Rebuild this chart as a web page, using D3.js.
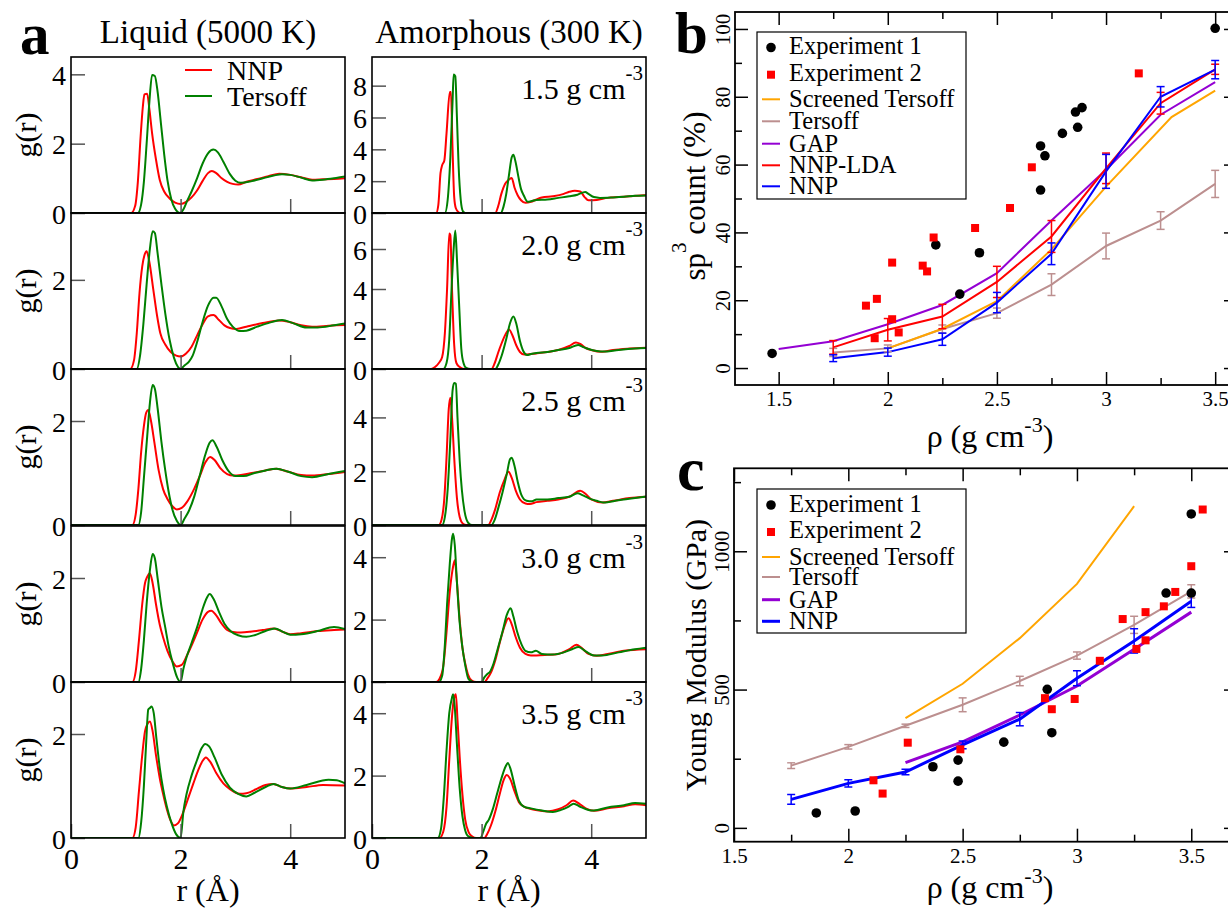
<!DOCTYPE html>
<html><head><meta charset="utf-8">
<script src="https://cdn.jsdelivr.net/npm/d3@7"></script>
<style>
body{margin:0;background:#fff}
svg{display:block}
text{font-family:"Liberation Serif","Times New Roman",serif;fill:#000}
</style>
</head><body>
<svg id="chart" width="1228" height="912"></svg>
<script>
// ---------------- DATA ----------------
const densityLabels = ["1.5","2.0","2.5","3.0","3.5"];
const liquidYMax = [4.5,3.5,3,3,3];
const amorphYMax = [9.8,7.8,5.8,5,5];
const liquidYTicks = [[0,2,4],[0,2],[0,2],[0,2],[0,2]];
const amorphYTicks = [[0,2,4,6,8],[0,2,4,6],[0,2,4],[0,2,4],[0,2,4]];
const rTicks = [0,2,4];

// Liquid g(r) [r, g]
const liq1_nnp = [[0,0],[1.1,0],[1.17,0.2],[1.22,0.9],[1.27,2.2],[1.31,3.05],[1.34,3.42],[1.39,3.44],[1.43,3.0],[1.48,2.3],[1.55,1.55],[1.62,0.95],[1.7,0.62],[1.8,0.42],[1.9,0.3],[2.0,0.26],[2.1,0.32],[2.2,0.45],[2.3,0.65],[2.4,0.92],[2.5,1.15],[2.57,1.21],[2.65,1.15],[2.75,1.0],[2.85,0.9],[2.95,0.84],[3.05,0.82],[3.2,0.9],[3.4,0.98],[3.6,1.06],[3.8,1.13],[4.0,1.1],[4.2,1.03],[4.4,0.96],[4.6,0.97],[4.8,0.98],[5.0,1.0]];
const liq1_ters = [[0,0],[1.22,0],[1.28,0.25],[1.33,0.9],[1.38,2.0],[1.43,3.2],[1.48,3.98],[1.53,3.95],[1.58,3.5],[1.64,2.6],[1.7,1.7],[1.76,0.95],[1.83,0.4],[1.9,0.12],[1.99,0],[2.05,0.1],[2.12,0.35],[2.2,0.62],[2.3,1.0],[2.4,1.42],[2.5,1.72],[2.6,1.83],[2.68,1.75],[2.78,1.48],[2.9,1.12],[3.0,0.93],[3.1,0.87],[3.3,0.92],[3.5,1.0],[3.7,1.08],[3.85,1.12],[4.0,1.1],[4.2,1.02],[4.4,0.94],[4.6,0.96],[4.8,1.0],[5.0,1.05]];
const liq2_nnp = [[0,0],[1.08,0],[1.15,0.2],[1.2,0.8],[1.25,1.7],[1.3,2.3],[1.34,2.55],[1.38,2.64],[1.43,2.4],[1.5,1.8],[1.57,1.2],[1.63,0.8],[1.72,0.55],[1.82,0.38],[1.92,0.3],[2.0,0.28],[2.1,0.35],[2.2,0.5],[2.3,0.75],[2.4,1.0],[2.5,1.18],[2.6,1.21],[2.7,1.1],[2.8,0.98],[2.9,0.92],[3.02,0.9],[3.2,0.95],[3.5,1.03],[3.8,1.09],[4.0,1.05],[4.2,0.98],[4.4,0.95],[4.7,0.97],[5.0,0.99]];
const liq2_ters = [[0,0],[1.2,0],[1.26,0.3],[1.32,1.0],[1.38,1.9],[1.44,2.7],[1.49,3.09],[1.53,3.05],[1.58,2.6],[1.65,1.9],[1.72,1.25],[1.8,0.65],[1.88,0.25],[1.95,0.05],[2.0,0],[2.07,0.08],[2.15,0.16],[2.22,0.3],[2.3,0.6],[2.4,1.05],[2.5,1.42],[2.6,1.6],[2.65,1.6],[2.75,1.4],[2.85,1.12],[2.95,0.95],[3.08,0.85],[3.2,0.86],[3.4,0.95],[3.6,1.03],[3.85,1.1],[4.05,1.03],[4.3,0.93],[4.5,0.93],[4.8,0.98],[5.0,1.02]];
const liq3_nnp = [[0,0],[1.12,0],[1.18,0.2],[1.23,0.7],[1.28,1.4],[1.33,1.9],[1.37,2.15],[1.41,2.21],[1.46,2.0],[1.52,1.6],[1.6,1.05],[1.68,0.69],[1.76,0.5],[1.85,0.36],[1.93,0.3],[2.02,0.33],[2.12,0.45],[2.25,0.7],[2.35,0.94],[2.45,1.2],[2.54,1.31],[2.62,1.25],[2.72,1.1],[2.85,0.98],[2.96,0.95],[3.1,0.96],[3.3,1.0],[3.55,1.05],[3.75,1.08],[3.95,1.03],[4.2,0.96],[4.4,0.95],[4.7,0.98],[5.0,1.02]];
const liq3_ters = [[0,0],[1.23,0],[1.28,0.25],[1.33,0.9],[1.39,1.7],[1.44,2.35],[1.49,2.69],[1.53,2.62],[1.58,2.25],[1.65,1.6],[1.72,1.05],[1.78,0.65],[1.85,0.3],[1.93,0.08],[2.0,0],[2.07,0.12],[2.15,0.27],[2.25,0.55],[2.35,0.95],[2.45,1.35],[2.53,1.58],[2.58,1.63],[2.66,1.5],[2.76,1.25],[2.88,1.03],[3.0,0.94],[3.15,0.94],[3.35,1.0],[3.55,1.05],[3.75,1.08],[3.95,1.03],[4.2,0.94],[4.4,0.92],[4.7,0.98],[5.0,1.04]];
const liq4_nnp = [[0,0],[1.12,0],[1.18,0.2],[1.24,0.8],[1.3,1.5],[1.35,1.9],[1.39,2.02],[1.44,2.09],[1.49,1.9],[1.55,1.5],[1.62,1.1],[1.68,0.86],[1.76,0.6],[1.85,0.4],[1.93,0.3],[2.02,0.33],[2.12,0.52],[2.22,0.75],[2.3,0.95],[2.4,1.2],[2.5,1.35],[2.56,1.37],[2.65,1.28],[2.75,1.12],[2.85,1.0],[2.96,0.96],[3.1,0.95],[3.3,0.97],[3.5,1.0],[3.7,1.03],[3.85,0.97],[4.0,0.92],[4.2,0.94],[4.5,0.98],[4.8,1.0],[5.0,1.01]];
const liq4_ters = [[0,0],[1.23,0],[1.28,0.25],[1.33,0.8],[1.38,1.5],[1.44,2.15],[1.49,2.46],[1.53,2.38],[1.58,2.0],[1.65,1.45],[1.72,1.05],[1.78,0.7],[1.86,0.35],[1.94,0.08],[2.0,0],[2.05,0.25],[2.11,0.48],[2.2,0.75],[2.3,1.05],[2.4,1.4],[2.48,1.62],[2.53,1.69],[2.6,1.6],[2.7,1.35],[2.8,1.12],[2.92,0.97],[3.05,0.9],[3.2,0.87],[3.35,0.9],[3.55,0.98],[3.72,1.03],[3.88,0.96],[4.0,0.91],[4.2,0.92],[4.5,0.98],[4.8,1.06],[5.0,1.02]];
const liq5_nnp = [[0,0],[1.12,0],[1.18,0.2],[1.24,0.9],[1.3,1.6],[1.35,2.05],[1.4,2.2],[1.44,2.24],[1.49,2.05],[1.55,1.6],[1.62,1.15],[1.68,0.85],[1.75,0.55],[1.82,0.33],[1.88,0.24],[1.95,0.28],[2.05,0.5],[2.15,0.8],[2.23,1.04],[2.32,1.3],[2.4,1.48],[2.46,1.55],[2.55,1.45],[2.65,1.25],[2.78,1.05],[2.9,0.94],[3.08,0.85],[3.2,0.86],[3.4,0.95],[3.55,1.02],[3.69,1.04],[3.85,0.98],[4.0,0.95],[4.3,0.98],[4.6,1.02],[5.0,1.01]];
const liq5_ters = [[0,0],[1.23,0],[1.28,0.3],[1.33,1.0],[1.37,1.8],[1.41,2.47],[1.44,2.5],[1.47,2.53],[1.51,2.4],[1.56,1.9],[1.62,1.35],[1.68,0.95],[1.75,0.6],[1.83,0.3],[1.92,0.07],[2.0,0],[2.05,0.5],[2.11,0.85],[2.2,1.2],[2.3,1.5],[2.38,1.72],[2.45,1.81],[2.52,1.76],[2.62,1.55],[2.75,1.22],[2.9,0.97],[3.05,0.85],[3.2,0.8],[3.35,0.87],[3.55,0.98],[3.7,1.04],[3.85,0.98],[4.0,0.95],[4.3,1.02],[4.7,1.12],[4.85,1.11],[5.0,1.05]];

// Amorphous g(r) [r, g]
const am1_nnp = [[0,0],[1.17,0],[1.21,0.5],[1.25,2.5],[1.28,3.0],[1.32,3.3],[1.36,5.0],[1.42,7.6],[1.44,7.6],[1.47,4.0],[1.5,1.0],[1.53,0.3],[1.58,0.05],[1.62,0],[2.25,0],[2.3,0.4],[2.36,1.2],[2.43,1.84],[2.5,2.1],[2.55,2.2],[2.6,1.6],[2.66,1.1],[2.72,0.8],[2.8,0.64],[2.9,0.7],[3.0,0.85],[3.1,0.97],[3.3,1.05],[3.5,1.2],[3.6,1.33],[3.7,1.4],[3.8,1.35],[3.88,1.0],[3.95,0.8],[4.1,0.82],[4.3,0.95],[4.5,1.0],[4.7,1.05],[4.9,1.1],[5.0,1.12]];
const am1_ters = [[0,0],[1.33,0],[1.38,0.8],[1.43,3.5],[1.47,7.0],[1.49,8.7],[1.52,8.6],[1.55,6.0],[1.58,3.0],[1.62,0.8],[1.66,0.1],[1.7,0],[2.35,0],[2.4,0.4],[2.45,1.2],[2.5,2.4],[2.55,3.5],[2.58,3.66],[2.62,3.2],[2.67,2.3],[2.72,1.5],[2.77,1.1],[2.84,0.7],[2.92,0.75],[3.0,0.82],[3.2,0.85],[3.4,0.95],[3.6,1.05],[3.75,1.15],[3.89,1.32],[3.95,1.2],[4.05,1.0],[4.16,0.95],[4.4,0.98],[4.6,1.02],[4.8,1.08],[5.0,1.1]];
const am2_nnp = [[0,0],[1.08,0],[1.15,0.1],[1.22,0.3],[1.28,0.6],[1.33,1.8],[1.37,4.0],[1.41,6.78],[1.43,6.7],[1.46,4.0],[1.5,1.2],[1.54,0.3],[1.6,0.1],[1.68,0],[2.18,0],[2.24,0.3],[2.3,0.8],[2.36,1.25],[2.44,1.75],[2.5,1.98],[2.56,1.7],[2.63,1.2],[2.7,0.85],[2.78,0.72],[2.9,0.75],[3.0,0.78],[3.2,0.85],[3.4,0.95],[3.6,1.15],[3.72,1.32],[3.8,1.25],[3.9,1.05],[4.0,0.95],[4.2,0.86],[4.4,0.95],[4.7,1.02],[5.0,1.06]];
const am2_ters = [[0,0],[1.3,0],[1.36,0.3],[1.41,1.5],[1.45,3.9],[1.49,6.0],[1.52,6.92],[1.55,5.5],[1.59,3.2],[1.63,1.0],[1.67,0.3],[1.72,0.05],[1.8,0],[2.25,0],[2.3,0.2],[2.37,0.7],[2.45,1.5],[2.52,2.3],[2.58,2.62],[2.63,2.3],[2.7,1.4],[2.76,0.9],[2.83,0.7],[2.9,0.75],[3.0,0.8],[3.2,0.85],[3.4,0.95],[3.6,1.05],[3.76,1.2],[3.85,1.1],[3.95,1.0],[4.1,0.9],[4.22,0.87],[4.5,0.95],[4.8,1.02],[5.0,1.05]];
const am3_nnp = [[0,0],[1.22,0],[1.27,0.2],[1.32,1.0],[1.36,2.5],[1.4,4.3],[1.43,4.73],[1.46,4.0],[1.5,2.5],[1.55,1.0],[1.6,0.3],[1.66,0.05],[1.72,0],[2.12,0],[2.18,0.2],[2.25,0.6],[2.33,1.2],[2.42,1.7],[2.49,1.98],[2.55,1.75],[2.62,1.3],[2.7,0.95],[2.8,0.8],[2.88,0.78],[3.0,0.85],[3.2,0.9],[3.4,0.95],[3.6,1.05],[3.8,1.27],[3.9,1.15],[4.0,0.95],[4.2,0.84],[4.4,0.9],[4.7,1.0],[5.0,1.05]];
const am3_ters = [[0,0],[1.28,0],[1.33,0.3],[1.38,1.3],[1.43,3.2],[1.47,5.0],[1.5,5.28],[1.53,5.25],[1.56,4.0],[1.6,2.4],[1.64,1.3],[1.69,0.5],[1.75,0.1],[1.82,0],[2.18,0],[2.24,0.2],[2.3,0.6],[2.38,1.2],[2.46,1.9],[2.52,2.45],[2.55,2.5],[2.6,2.2],[2.66,1.6],[2.73,1.1],[2.82,0.9],[2.92,0.88],[3.0,0.95],[3.2,0.95],[3.4,1.0],[3.6,1.05],[3.75,1.18],[3.85,1.1],[3.95,1.0],[4.1,0.9],[4.22,0.84],[4.5,0.92],[4.8,1.0],[5.0,1.06]];
const am4_nnp = [[0,0],[1.17,0],[1.23,0.1],[1.3,0.5],[1.36,1.6],[1.42,2.9],[1.47,3.6],[1.51,3.9],[1.55,3.2],[1.6,2.0],[1.65,1.1],[1.7,0.6],[1.75,0.25],[1.82,0.05],[1.9,0],[2.05,0],[2.1,0.1],[2.17,0.3],[2.25,0.7],[2.33,1.25],[2.42,1.8],[2.49,2.04],[2.55,1.85],[2.62,1.45],[2.7,1.1],[2.8,0.9],[2.9,0.85],[3.0,0.85],[3.2,0.87],[3.4,0.9],[3.6,1.05],[3.73,1.19],[3.82,1.1],[3.95,0.9],[4.1,0.84],[4.3,0.9],[4.6,1.0],[5.0,1.05]];
const am4_ters = [[0,0],[1.22,0],[1.28,0.2],[1.33,1.2],[1.37,2.5],[1.42,3.8],[1.46,4.6],[1.48,4.75],[1.51,4.4],[1.55,3.2],[1.6,1.9],[1.65,1.1],[1.7,0.55],[1.76,0.1],[1.85,0],[2.0,0],[2.05,0.15],[2.1,0.25],[2.15,0.32],[2.22,0.6],[2.3,1.1],[2.38,1.6],[2.46,2.15],[2.53,2.36],[2.58,2.1],[2.65,1.6],[2.73,1.2],[2.8,1.0],[2.9,0.95],[2.99,1.0],[3.1,0.9],[3.3,0.88],[3.5,0.95],[3.65,1.05],[3.77,1.12],[3.9,0.98],[4.05,0.85],[4.2,0.85],[4.5,0.95],[4.8,1.05],[5.0,1.1]];
const am5_nnp = [[0,0],[1.23,0],[1.3,0.2],[1.36,1.0],[1.41,2.5],[1.46,3.9],[1.5,4.5],[1.53,4.61],[1.56,3.8],[1.6,2.6],[1.65,1.4],[1.7,0.6],[1.76,0.2],[1.83,0.05],[1.9,0],[2.05,0],[2.1,0.12],[2.17,0.4],[2.25,0.85],[2.33,1.4],[2.4,1.85],[2.46,2.02],[2.52,1.9],[2.6,1.5],[2.68,1.15],[2.78,1.0],[2.9,0.93],[3.05,0.88],[3.2,0.85],[3.4,0.92],[3.55,1.05],[3.67,1.2],[3.78,1.1],[3.9,0.95],[4.05,0.87],[4.3,0.95],[4.6,1.02],[4.8,1.08],[5.0,1.05]];
const am5_ters = [[0,0],[1.2,0],[1.26,0.3],[1.31,1.3],[1.36,2.8],[1.41,4.0],[1.46,4.5],[1.48,4.61],[1.51,4.2],[1.55,3.0],[1.6,1.6],[1.65,0.7],[1.7,0.25],[1.76,0.05],[1.85,0],[1.98,0],[2.03,0.2],[2.08,0.45],[2.13,0.58],[2.2,0.9],[2.28,1.4],[2.36,1.9],[2.44,2.3],[2.48,2.4],[2.53,2.2],[2.6,1.7],[2.68,1.2],[2.78,1.0],[2.9,0.95],[3.1,0.88],[3.3,0.83],[3.45,0.9],[3.58,1.0],[3.68,1.1],[3.8,1.0],[3.95,0.9],[4.05,0.88],[4.3,0.98],[4.6,1.05],[4.8,1.12],[5.0,1.1]];

// Panel b: sp3 count (%)
const exp1_sp3 = [[1.47,4.3],[2.22,36.3],[2.33,21.8],[2.42,34.0],[2.70,52.5],[2.70,65.5],[2.72,62.6],[2.80,69.2],[2.86,75.5],[2.87,71.0],[2.89,76.8],[3.5,100.2]];
const exp2_sp3 = [[1.90,18.4],[1.94,8.8],[1.95,20.4],[2.02,31.1],[2.02,14.4],[2.05,10.5],[2.16,30.2],[2.18,28.5],[2.21,38.5],[2.40,41.3],[2.56,47.2],[2.66,59.2],[3.15,86.9]];
const simDens = [1.75,2.0,2.25,2.5,2.75,3.0,3.25,3.5];
const gapDensB = [1.5,1.75,2.0,2.25,2.5,2.75,3.0,3.25,3.5];
const gapSp3 = [5.6,7.9,12.9,18.6,28.0,43.5,58.5,74.7,84.3];
const nnpLdaSp3 = [6.1,11.3,15.2,25.4,38.8,58.9,78.1,88.1];
const nnpLdaSp3Err = [2.0,3.3,3.6,4.6,4.7,4.5,3.2,1.5];
const nnpSp3 = [2.9,4.7,8.5,19.3,33.7,58.0,80.0,88.0];
const nnpSp3Err = [1.0,1.2,1.8,3.0,3.2,5.0,3.0,2.7];
const tersSp3 = [4.6,5.8,11.5,16.2,24.6,36.0,43.5,54.3];
const tersSp3Err = [1.2,1.0,1.2,1.5,3.2,3.8,2.6,4.0];
const scrDensB = [2.0,2.25,2.5,2.75,3.0,3.3,3.5];
const scrSp3 = [5.8,11.6,19.7,35.0,53.5,74.0,81.8];

// Panel c: Young modulus (GPa)
const exp1_E = [[1.86,54],[2.03,61],[2.37,221],[2.48,245],[2.48,169],[2.68,310],[2.87,501],[2.89,344],[3.39,849],[3.5,849],[3.5,1135]];
const exp2_E = [[2.11,172],[2.15,124],[2.26,308],[2.49,284],[2.86,469],[2.89,429],[2.99,466],[3.10,604],[3.20,755],[3.26,647],[3.30,678],[3.30,780],[3.38,801],[3.43,853],[3.5,946],[3.55,1151]];
const tersE = [225,293,369,445,531,623,734,855];
const tersEErr = [10,8,6,25,17,13,31,24];
const nnpE = [103,161,202,300,393,541,676,819];
const nnpEErr = [18,13,10,14,24,27,44,22];
const gapDensC = [2.25,2.5,2.75,3.0,3.25,3.5];
const gapE = [236,311,408,513,646,780];
const scrDensC = [2.25,2.5,2.75,3.0,3.25];
const scrE = [397,521,686,882,1163];

const legendB = ["Experiment 1","Experiment 2","Screened Tersoff","Tersoff","GAP","NNP-LDA","NNP"];
const legendC = ["Experiment 1","Experiment 2","Screened Tersoff","Tersoff","GAP","NNP"];

// ---------------- DRAW ----------------
const svg = d3.select("#chart");
const FONT = "Liberation Serif, Times New Roman, serif";
const C = {nnp:"#ff0000", ters:"#008000", scr:"#ffa500", tersoff:"#bc8f8f", gap:"#9400d3", lda:"#ff0000", blue:"#0000ff"};

function styleAxis(sel, fs, tickColor){
  sel.select(".domain").remove();
  sel.attr("font-family", FONT).attr("font-size", fs);
  sel.selectAll(".tick line").attr("stroke", tickColor||"#000").attr("stroke-width",1.5);
  sel.selectAll(".tick text").attr("fill","#000");
}

// ---- Panel a ----
const rowTops = [57,213,369,526,682];
const rowH = 156;
const colsA = [
  {x0:71, w:274, title:"Liquid (5000 K)", nnp:[liq1_nnp,liq2_nnp,liq3_nnp,liq4_nnp,liq5_nnp], ters:[liq1_ters,liq2_ters,liq3_ters,liq4_ters,liq5_ters], ymax:liquidYMax, ticks:liquidYTicks},
  {x0:372, w:274, title:"Amorphous (300 K)", nnp:[am1_nnp,am2_nnp,am3_nnp,am4_nnp,am5_nnp], ters:[am1_ters,am2_ters,am3_ters,am4_ters,am5_ters], ymax:amorphYMax, ticks:amorphYTicks}
];
const defs = svg.append("defs");

colsA.forEach((col, ci) => {
  const x = d3.scaleLinear([0,5],[col.x0, col.x0+col.w]);
  svg.append("text").attr("x", col.x0+col.w/2).attr("y",43).attr("text-anchor","middle")
     .attr("font-size",33).text(col.title);
  rowTops.forEach((top, i) => {
    const y = d3.scaleLinear([0, col.ymax[i]],[top+rowH, top]);
    const id = `clipA${ci}_${i}`;
    defs.append("clipPath").attr("id",id).append("rect")
      .attr("x",col.x0).attr("y",top).attr("width",col.w).attr("height",rowH);
    const g = svg.append("g");
    const line = d3.line().x(d=>x(d[0])).y(d=>y(d[1])).curve(d3.curveMonotoneX);
    const pg = g.append("g").attr("clip-path",`url(#${id})`);
    pg.append("path").datum(col.nnp[i]).attr("d",line).attr("fill","none")
      .attr("stroke",C.nnp).attr("stroke-width",2);
    pg.append("path").datum(col.ters[i]).attr("d",line).attr("fill","none")
      .attr("stroke",C.ters).attr("stroke-width",2);
    g.append("g").attr("transform",`translate(${col.x0},0)`)
      .call(d3.axisLeft(y).tickValues(col.ticks[i]).tickSize(-14).tickPadding(5).tickFormat(d3.format("d")))
      .call(a=>styleAxis(a,28,"#555"))
      .call(a=>a.selectAll(".tick text").attr("dy","0.36em"));
    const last = i === rowTops.length-1;
    g.append("g").attr("transform",`translate(0,${top+rowH})`)
      .call(d3.axisBottom(x).tickValues(last ? rTicks : [2,4]).tickSize(-14).tickFormat(last ? d3.format("d") : ""))
      .call(a=>styleAxis(a,30,"#555"))
      .call(a=>a.selectAll(".tick text").attr("y",31).attr("dy",null));
    g.append("rect").attr("x",col.x0).attr("y",top).attr("width",col.w).attr("height",rowH)
      .attr("fill","none").attr("stroke","#000").attr("stroke-width",1.6);
    if (ci === 0) {
      svg.append("text").attr("transform",`translate(36,${top+rowH/2}) rotate(-90)`)
        .attr("text-anchor","middle").attr("font-size",30).text("g(r)");
    } else {
      const t = svg.append("text").attr("x",643).attr("y",top+42).attr("text-anchor","end").attr("font-size",30);
      t.append("tspan").text(`${densityLabels[i]} g cm`);
      t.append("tspan").attr("dy",-19).attr("font-size",21).text("-3");
    }
  });
  svg.append("text").attr("x",col.x0+col.w/2).attr("y",901).attr("text-anchor","middle")
    .attr("font-size",32).text("r (Å)");
});
[["NNP",C.nnp,80],["Tersoff",C.ters,106]].forEach(([lab,col,by]) => {
  svg.append("line").attr("x1",185).attr("x2",212).attr("y1",by-10).attr("y2",by-10)
    .attr("stroke",col).attr("stroke-width",2);
  svg.append("text").attr("x",227).attr("y",by).attr("font-size",28).text(lab);
});
svg.append("text").attr("x",20).attr("y",54).attr("font-size",59).attr("font-weight","bold").text("a");

// ---- helpers for b and c ----
function frameAxes(xs, ys, L, R, T, B, xMaj, xMin, yMaj, yMin, xfmt) {
  const g = svg.append("g");
  g.append("g").attr("transform",`translate(0,${B})`)
    .call(d3.axisBottom(xs).tickValues(xMaj).tickSize(-13).tickFormat(xfmt))
    .call(a=>styleAxis(a,21)).call(a=>a.selectAll(".tick text").attr("y",21).attr("dy",null));
  g.append("g").attr("transform",`translate(0,${B})`)
    .call(d3.axisBottom(xs).tickValues(xMin).tickSize(-7).tickFormat("")).call(a=>styleAxis(a,21));
  g.append("g").attr("transform",`translate(0,${T})`)
    .call(d3.axisTop(xs).tickValues(xMaj).tickSize(-13).tickFormat("")).call(a=>styleAxis(a,21));
  g.append("g").attr("transform",`translate(0,${T})`)
    .call(d3.axisTop(xs).tickValues(xMin).tickSize(-7).tickFormat("")).call(a=>styleAxis(a,21));
  g.append("g").attr("transform",`translate(${L},0)`)
    .call(d3.axisLeft(ys).tickValues(yMaj).tickSize(-13).tickFormat(d3.format("d")))
    .call(a=>styleAxis(a,21))
    .call(a=>a.selectAll(".tick text").attr("x",null).attr("dy",null).attr("text-anchor","middle")
       .attr("transform","translate(-5,0) rotate(-90)"));
  g.append("g").attr("transform",`translate(${L},0)`)
    .call(d3.axisLeft(ys).tickValues(yMin).tickSize(-7).tickFormat("")).call(a=>styleAxis(a,21));
  g.append("g").attr("transform",`translate(${R},0)`)
    .call(d3.axisRight(ys).tickValues(yMaj).tickSize(-13).tickFormat("")).call(a=>styleAxis(a,21));
  g.append("g").attr("transform",`translate(${R},0)`)
    .call(d3.axisRight(ys).tickValues(yMin).tickSize(-7).tickFormat("")).call(a=>styleAxis(a,21));
  g.append("rect").attr("x",L).attr("y",T).attr("width",R-L).attr("height",B-T)
    .attr("fill","none").attr("stroke","#000").attr("stroke-width",1.8);
}
function drawLine(g, xs, ys, xv, yv, color, w) {
  const pts = xv.map((d,i)=>[d, yv[i]]);
  g.append("path").datum(pts)
    .attr("d", d3.line().x(d=>xs(d[0])).y(d=>ys(d[1])))
    .attr("fill","none").attr("stroke",color).attr("stroke-width",w);
}
function drawErr(g, xs, ys, xv, yv, ev, color) {
  xv.forEach((d,i) => {
    const x = xs(d), y1 = ys(yv[i]-ev[i]), y2 = ys(yv[i]+ev[i]);
    g.append("line").attr("x1",x).attr("x2",x).attr("y1",y1).attr("y2",y2).attr("stroke",color).attr("stroke-width",1.5);
    [y1,y2].forEach(yy => g.append("line").attr("x1",x-4).attr("x2",x+4).attr("y1",yy).attr("y2",yy)
      .attr("stroke",color).attr("stroke-width",1.5));
  });
}
function drawPoints(g, xs, ys, circ, sq) {
  g.selectAll(null).data(circ).join("circle").attr("cx",d=>xs(d[0])).attr("cy",d=>ys(d[1])).attr("r",4.8).attr("fill","#000");
  g.selectAll(null).data(sq).join("rect").attr("x",d=>xs(d[0])-4).attr("y",d=>ys(d[1])-4)
    .attr("width",8).attr("height",8).attr("fill","#ff0000");
}
function drawLegend(items, styles, bx, by, bw, bh, baselines) {
  const g = svg.append("g");
  g.append("rect").attr("x",bx).attr("y",by).attr("width",bw).attr("height",bh)
    .attr("fill","#fff").attr("stroke","#000").attr("stroke-width",1.2);
  items.forEach((lab,i) => {
    const s = styles[i], b = baselines[i];
    if (s.type === "circle") g.append("circle").attr("cx",bx+14).attr("cy",b-6.5).attr("r",4.8).attr("fill","#000");
    else if (s.type === "square") g.append("rect").attr("x",bx+10).attr("y",b-10).attr("width",8).attr("height",8).attr("fill","#ff0000");
    else g.append("line").attr("x1",bx+5).attr("x2",bx+23).attr("y1",b-8).attr("y2",b-8).attr("stroke",s.color).attr("stroke-width",s.w);
    g.append("text").attr("x",bx+32).attr("y",b).attr("font-size",24.5).text(lab);
  });
}
function rhoLabel(cx, by) {
  const t = svg.append("text").attr("x",cx).attr("y",by).attr("text-anchor","middle").attr("font-size",32);
  t.append("tspan").text("ρ (g cm");
  t.append("tspan").attr("dy",-15).attr("font-size",22).text("-3");
  t.append("tspan").attr("dy",15).text(")");
}

// ---- Panel b ----
{
  const L=735, R=1237, T=12, B=385;
  const xs = d3.scaleLinear([1.3,3.6],[L,R]);
  const ys = d3.scaleLinear([-5,105],[B,T]);
  defs.append("clipPath").attr("id","clipB").append("rect").attr("x",L).attr("y",T).attr("width",R-L).attr("height",B-T);
  const g = svg.append("g").attr("clip-path","url(#clipB)");
  drawLine(g, xs, ys, simDens, tersSp3, C.tersoff, 2);
  drawLine(g, xs, ys, scrDensB, scrSp3, C.scr, 2);
  drawLine(g, xs, ys, gapDensB, gapSp3, C.gap, 2);
  drawLine(g, xs, ys, simDens, nnpLdaSp3, C.lda, 2);
  drawLine(g, xs, ys, simDens, nnpSp3, C.blue, 2);
  drawErr(g, xs, ys, simDens, tersSp3, tersSp3Err, C.tersoff);
  drawErr(g, xs, ys, simDens, nnpLdaSp3, nnpLdaSp3Err, C.lda);
  drawErr(g, xs, ys, simDens, nnpSp3, nnpSp3Err, C.blue);
  drawPoints(g, xs, ys, exp1_sp3, exp2_sp3);
  frameAxes(xs, ys, L, R, T, B, [1.5,2,2.5,3,3.5], [1.75,2.25,2.75,3.25], d3.range(0,101,20), d3.range(10,100,20), d3.format(""));
  drawLegend(legendB, [{type:"circle"},{type:"square"},{color:C.scr,w:2},{color:C.tersoff,w:2},{color:C.gap,w:2},{color:C.lda,w:2},{color:C.blue,w:2}],
    757, 32, 209, 167, [54,80.7,107.3,129.3,151.7,173.3,194.3]);
  rhoLabel(990, 447);
  const t = svg.append("text").attr("transform","translate(705,196) rotate(-90)").attr("text-anchor","middle").attr("font-size",31);
  t.append("tspan").text("sp");
  t.append("tspan").attr("dy",-19).attr("font-size",21).text("3");
  t.append("tspan").attr("dy",19).text(" count (%)");
  svg.append("text").attr("x",675).attr("y",53).attr("font-size",59).attr("font-weight","bold").text("b");
}

// ---- Panel c ----
{
  const L=734, R=1237, T=468.3, B=841.7;
  const xs = d3.scaleLinear([1.5,3.7],[L,R]);
  const ys = d3.scaleLinear([-50,1300],[B,T]);
  defs.append("clipPath").attr("id","clipC").append("rect").attr("x",L).attr("y",T).attr("width",R-L).attr("height",B-T);
  const g = svg.append("g").attr("clip-path","url(#clipC)");
  drawLine(g, xs, ys, scrDensC, scrE, C.scr, 2);
  drawLine(g, xs, ys, simDens, tersE, C.tersoff, 2);
  drawLine(g, xs, ys, gapDensC, gapE, C.gap, 3);
  drawLine(g, xs, ys, simDens, nnpE, C.blue, 3);
  drawErr(g, xs, ys, simDens, tersE, tersEErr, C.tersoff);
  drawErr(g, xs, ys, simDens, nnpE, nnpEErr, C.blue);
  drawPoints(g, xs, ys, exp1_E, exp2_E);
  frameAxes(xs, ys, L, R, T, B, [1.5,2,2.5,3,3.5], [1.75,2.25,2.75,3.25], [0,500,1000], [250,750,1250], d3.format(""));
  drawLegend(legendC, [{type:"circle"},{type:"square"},{color:C.scr,w:2},{color:C.tersoff,w:2},{color:C.gap,w:3},{color:C.blue,w:3}],
    757, 489, 209, 144, [511.5,538,565,585,607.7,629.3]);
  rhoLabel(990, 898);
  svg.append("text").attr("transform","translate(706,655) rotate(-90)").attr("text-anchor","middle")
    .attr("font-size",30).text("Young Modulus (GPa)");
  svg.append("text").attr("x",677).attr("y",490).attr("font-size",62).attr("font-weight","bold").text("c");
}
</script>
</body></html>
